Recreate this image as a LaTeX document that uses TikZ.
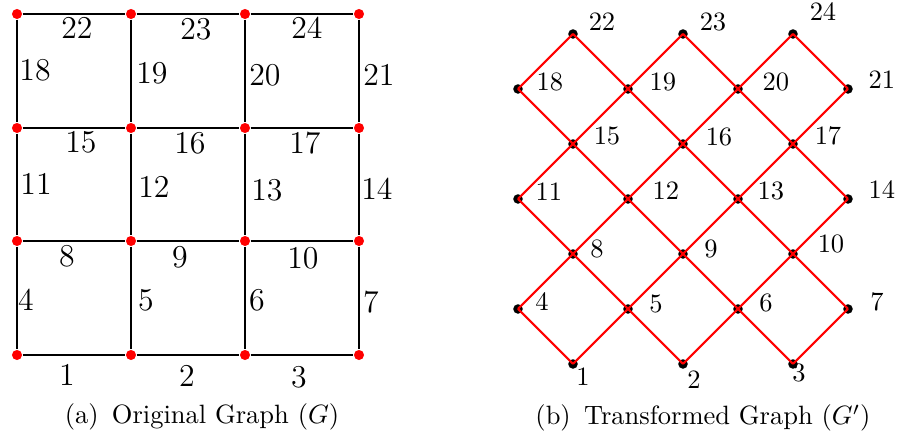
\documentclass[tikz,border=0pt]{standalone}
\begin{document}
\begin{tikzpicture}[x=0.3774pt,y=-0.3774pt,
 rdot/.style={circle,fill=red,inner sep=0pt,minimum size=3.8pt},
 bdot/.style={circle,fill=black,inner sep=0pt,minimum size=3.6pt},
 gedge/.style={line width=1pt,black},
 redge/.style={line width=0.8pt,red},
 llab/.style={font=\large,inner sep=0pt},
 rlab/.style={font=\normalsize,inner sep=0pt},
 captext/.style={font=\normalsize,inner sep=0pt}]
\useasboundingbox (0,0) rectangle (898,438);
% ---- (a) original graph
\foreach \c/\x in {0/17,1/131,2/245,3/359}
  \foreach \r/\y in {0/14,1/128,2/241,3/355}
    \node[rdot] (v\c\r) at (\x,\y) {};
\foreach \r in {0,1,2,3}
  \foreach \c/\d in {0/1,1/2,2/3}
    \draw[gedge] (v\c\r) -- (v\d\r);
\foreach \c in {0,1,2,3}
  \foreach \r/\s in {0/1,1/2,2/3}
    \draw[gedge] (v\c\r) -- (v\c\s);
\foreach \t/\x/\y in {22/77/28,23/196/29,24/307/28,18/35/70,19/152/73,20/265/75,21/379/75,
  15/81/142,16/190/143,17/305/143,11/36/184,12/154/187,13/267/190,14/377/189,
  8/67/256,9/180/257,10/303/258,4/26/300,5/146/300,6/257/300,7/371/302,
  1/67/375,2/187/376,3/299/377}
  \node[llab] (a\t) at (\x,\y) {\t};
\node[captext] (capa) at (202,417) {(a)\hspace{0.5em}Original Graph ($G$)};
% ---- (b) transformed graph
\foreach \t/\x/\y in {22/573/34,23/683/34,24/793/34,
  18/518/89,19/628/89,20/738/89,21/848/89,
  15/573/144,16/683/144,17/793/144,
  11/518/199,12/628/199,13/738/199,14/848/199,
  8/573/254,9/683/254,10/793/254,
  4/518/309,5/628/309,6/738/309,7/848/309,
  1/573/364,2/683/364,3/793/364}
  \node[bdot] (e\t) at (\x,\y) {};
\foreach \p/\q in {22/18,22/19,23/19,23/20,24/20,24/21,
  18/15,19/15,19/16,20/16,20/17,21/17,
  15/11,15/12,16/12,16/13,17/13,17/14,
  11/8,12/8,12/9,13/9,13/10,14/10,
  8/4,8/5,9/5,9/6,10/6,10/7,
  4/1,5/1,5/2,6/2,6/3,7/3}
  \draw[redge] (e\p.center) -- (e\q.center);
\foreach \t/\x/\y in {22/602/22,23/713/22,24/823/12,18/550/82,19/663/82,20/776/82,21/882/80,
  15/607/136,16/719/137,17/828/136,11/549/192,12/666/191,13/771/191,14/882/190,
  8/597/249,9/711/249,10/831/244,4/542/302,5/656/304,6/766/303,7/877/302,
  1/583/377,2/694/380,3/799/373}
  \node[rlab] (b\t) at (\x,\y) {\t};
\node[captext] (capb) at (703,418) {(b)\hspace{0.5em}Transformed Graph ($G'$)};
\end{tikzpicture}
\end{document}
